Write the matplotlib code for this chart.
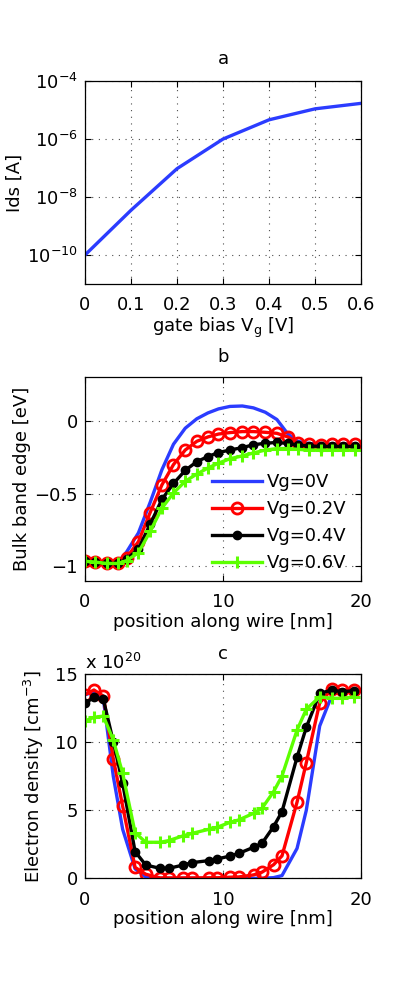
import numpy as np
import matplotlib
matplotlib.use("Agg")
import matplotlib.pyplot as plt
from matplotlib.ticker import FixedLocator, NullLocator

plt.rcParams['font.family'] = ['DejaVu Sans']
plt.rcParams['mathtext.default'] = 'regular'
plt.rcParams['font.size'] = 13

# panel a: drain current vs gate bias
vg = [0.0, 0.1, 0.2, 0.3, 0.4, 0.5, 0.6]
ids = [1.0e-10, 3.5e-9, 9.5e-8, 1.0e-6, 4.6e-6, 1.1e-5, 1.7e-5]

# panel b: bulk band edge along wire
pos_b = [0.0, 0.73, 1.57, 2.42, 3.02, 3.87, 4.72, 5.57, 6.41, 7.26, 8.10, 8.90, 9.67,
         10.50, 11.40, 12.20, 13.06, 13.90, 14.70, 15.40, 16.20, 17.10, 17.90, 18.70, 19.55]
band_0 = [-0.965, -0.97, -0.98, -0.97, -0.90, -0.77, -0.56, -0.336, -0.16, -0.05, 0.015, 0.055,
          0.083, 0.10, 0.103, 0.09, 0.06, 0.01, -0.09, -0.14, -0.155, -0.16, -0.16, -0.16, -0.16]
band_02 = [-0.965, -0.97, -0.98, -0.98, -0.94, -0.83, -0.63, -0.44, -0.30, -0.20, -0.14, -0.11,
           -0.09, -0.08, -0.073, -0.073, -0.078, -0.085, -0.11, -0.15, -0.16, -0.165, -0.16, -0.16, -0.16]
band_04 = [-0.965, -0.97, -0.98, -0.98, -0.95, -0.88, -0.71, -0.54, -0.43, -0.34, -0.28, -0.245,
           -0.217, -0.20, -0.183, -0.164, -0.153, -0.148, -0.155, -0.165, -0.172, -0.175, -0.175,
           -0.175, -0.175]
band_06 = [-0.965, -0.97, -0.98, -0.98, -0.96, -0.906, -0.76, -0.60, -0.495, -0.415, -0.365, -0.324,
           -0.29, -0.26, -0.24, -0.22, -0.20, -0.19, -0.19, -0.195, -0.20, -0.20, -0.20, -0.20, -0.20]

# panel c: electron density (units of 1e20 cm^-3)
pos_c = [0.0, 0.65, 1.33, 2.05, 2.73, 3.63, 4.40, 5.44, 6.05, 7.13, 7.74, 8.95, 9.56,
         10.52, 11.13, 12.21, 12.82, 13.66, 14.27, 15.36, 16.03, 17.00, 17.90, 18.60, 19.50]
dens_0 = [13.5, 13.7, 13.2, 7.5, 3.6, 0.7, 0.1, 0.0, 0.0, 0.0, 0.0, 0.0, 0.0,
          0.0, 0.0, 0.0, 0.0, 0.05, 0.2, 2.2, 5.0, 11.2, 13.5, 13.8, 13.8]
dens_02 = [13.5, 13.85, 13.4, 8.8, 5.3, 0.8, 0.3, 0.03, 0.03, 0.03, 0.03, 0.04, 0.04,
           0.08, 0.1, 0.25, 0.45, 1.0, 1.65, 5.6, 8.5, 12.9, 13.95, 13.85, 13.85]
dens_04 = [12.87, 13.3, 13.16, 10.05, 6.98, 1.96, 0.98, 0.73, 0.73, 0.98, 1.15, 1.3, 1.42,
           1.64, 1.83, 2.28, 2.57, 3.8, 4.9, 8.9, 11.1, 13.6, 13.85, 13.72, 13.8]
dens_06 = [11.57, 11.84, 11.93, 10.17, 7.72, 3.36, 2.65, 2.65, 2.77, 3.13, 3.3, 3.6, 3.75,
           4.12, 4.29, 4.78, 5.15, 6.37, 7.52, 10.9, 12.43, 13.35, 13.24, 13.24, 13.35]

labels = ['Vg=0V', 'Vg=0.2V', 'Vg=0.4V', 'Vg=0.6V']
blue = '#2b3cff'
red = '#ff0000'
green = '#5cff00'


def style(ax):
    ax.tick_params(direction='in', top=True, right=True, length=4, width=0.8)
    ax.tick_params(axis='x', pad=9)
    ax.tick_params(axis='y', pad=5)
    ax.grid(True, linestyle=(0, (1, 5)), color='0.3', linewidth=0.8)
    for s in ax.spines.values():
        s.set_linewidth(0.9)


fig = plt.figure(figsize=(3.99, 9.93), dpi=100)

# a
ax1 = fig.add_axes([0.213, 0.714, 0.692, 0.2044])
ax1.semilogy(vg, ids, color=blue, lw=2.4)
ax1.set_xlim(0, 0.6)
ax1.set_ylim(1e-11, 1e-4)
ax1.set_xticks([0, 0.1, 0.2, 0.3, 0.4, 0.5, 0.6])
ax1.set_xticklabels(['0', '0.1', '0.2', '0.3', '0.4', '0.5', '0.6'])
ax1.yaxis.set_major_locator(FixedLocator([1e-10, 1e-8, 1e-6, 1e-4]))
ax1.yaxis.set_minor_locator(NullLocator())
style(ax1)
ax1.set_title('a', pad=12, fontsize=13)
ax1.set_ylabel('Ids [A]')
ax1.set_xlabel('gate bias V$_g$ [V]')
ax1.yaxis.set_label_coords(-0.221, 0.5)
ax1.xaxis.set_label_coords(0.5, -0.155)

# b
ax2 = fig.add_axes([0.213, 0.415, 0.692, 0.205])
ax2.plot(pos_b, band_0, color=blue, lw=2.4, label=labels[0])
ax2.plot(pos_b, band_02, color=red, lw=2.4, marker='o', ms=8, mfc='none', mew=2, label=labels[1])
ax2.plot(pos_b, band_04, color='black', lw=2.4, marker='o', ms=6, label=labels[2])
ax2.plot(pos_b, band_06, color=green, lw=2.4, marker='+', ms=8, mew=2.2, label=labels[3])
ax2.set_xlim(0, 20)
ax2.set_ylim(-1.1, 0.3)
ax2.set_xticks([0, 10, 20])
ax2.set_yticks([-1, -0.5, 0])
ax2.set_yticklabels(['\u22121', '\u22120.5', '0'])
style(ax2)
ax2.set_title('b', pad=11, fontsize=13)
ax2.set_ylabel('Bulk band edge [eV]')
ax2.set_xlabel('position along wire [nm]')
ax2.yaxis.set_label_coords(-0.196, 0.5)
ax2.xaxis.set_label_coords(0.5, -0.16)
ax2.legend(loc='lower right', bbox_to_anchor=(0.974, 0.008), frameon=False,
           handlelength=2.77, handletextpad=0.28, labelspacing=0.5, borderaxespad=0,
           borderpad=0.4, fontsize=13)

# c
ax3 = fig.add_axes([0.213, 0.1155, 0.692, 0.2054])
ax3.plot(pos_c, dens_0, color=blue, lw=2.4)
ax3.plot(pos_c, dens_02, color=red, lw=2.4, marker='o', ms=8, mfc='none', mew=2)
ax3.plot(pos_c, dens_04, color='black', lw=2.4, marker='o', ms=6)
ax3.plot(pos_c, dens_06, color=green, lw=2.4, marker='+', ms=8, mew=2.2)
ax3.set_xlim(0, 20)
ax3.set_ylim(0, 15)
ax3.set_xticks([0, 10, 20])
ax3.set_yticks([0, 5, 10, 15])
style(ax3)
ax3.set_title('c', pad=11, fontsize=13)
ax3.set_ylabel('Electron density [cm$^{-3}$]')
ax3.set_xlabel('position along wire [nm]')
ax3.yaxis.set_label_coords(-0.141, 0.5)
ax3.xaxis.set_label_coords(0.5, -0.155)
ax3.text(0.0, 1.005, 'x 10$^{20}$', transform=ax3.transAxes, ha='left', va='bottom', fontsize=13)

fig.savefig('out.png', dpi=100)
